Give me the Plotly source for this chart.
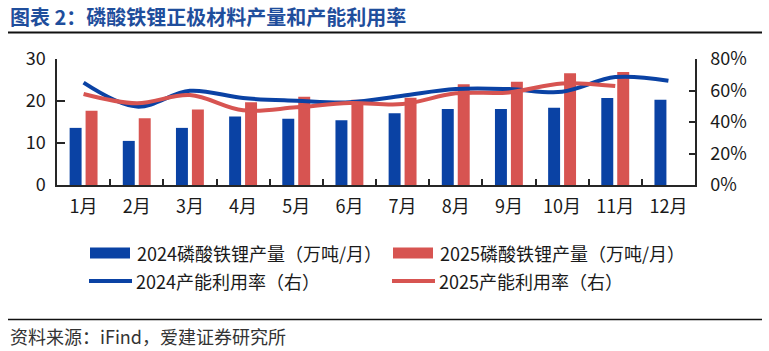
import plotly.graph_objects as go

# ---------------- data ----------------
months = ["1月", "2月", "3月", "4月", "5月", "6月", "7月", "8月", "9月", "10月", "11月", "12月"]
prod_2024 = [13.6, 10.5, 13.6, 16.3, 15.8, 15.4, 17.1, 18.1, 18.1, 18.4, 20.7, 20.3]
prod_2025 = [17.7, 15.9, 18.0, 19.7, 21.0, 20.3, 20.8, 24.0, 24.6, 26.6, 26.9, None]
util_2024 = [0.65, 0.498, 0.598, 0.552, 0.535, 0.525, 0.567, 0.609, 0.609, 0.592, 0.685, 0.662]
util_2025 = [0.578, 0.519, 0.571, 0.474, 0.493, 0.521, 0.514, 0.582, 0.588, 0.645, 0.628, None]

series_names = [
    "2024磷酸铁锂产量（万吨/月）",
    "2025磷酸铁锂产量（万吨/月）",
    "2024产能利用率（右）",
    "2025产能利用率（右）",
]
title_text = "图表 2：磷酸铁锂正极材料产量和产能利用率"
source_text = "资料来源：iFind，爱建证券研究所"
left_ticks = [0, 10, 20, 30]
right_ticks = [0, 0.2, 0.4, 0.6, 0.8]

# ---------------- style ----------------
BLUE = "#0a42a4"
RED = "#d75451"
TITLE_BLUE = "#1f4e9c"
AXIS = "#262626"
TXT = "#1a1a1a"
FONT = "Noto Sans CJK SC"

W, H = 769, 351
L, R, T, B = 57, 74, 59, 166
PW, PH = W - L - R, H - T - B


def px(x):
    return (x - L) / PW


def py(y):
    return (H - B - y) / PH


fig = go.Figure()
fig.add_trace(go.Bar(x=months, y=prod_2024, name=series_names[0],
                     marker=dict(color=BLUE, line=dict(width=0)), yaxis="y"))
fig.add_trace(go.Bar(x=months, y=prod_2025, name=series_names[1],
                     marker=dict(color=RED, line=dict(width=0)), yaxis="y"))
fig.add_trace(go.Scatter(x=months, y=util_2024, name=series_names[2], mode="lines",
                         line=dict(color=BLUE, width=4, shape="spline", smoothing=1),
                         yaxis="y2"))
fig.add_trace(go.Scatter(x=months, y=util_2025, name=series_names[3], mode="lines",
                         line=dict(color=RED, width=4, shape="spline", smoothing=1),
                         yaxis="y2"))

shapes = []
annotations = []

# title + underline
annotations.append(dict(x=px(8), y=py(16), xref="paper", yref="paper", xanchor="left",
                        yanchor="middle", showarrow=False, text="<b>" + title_text + "</b>",
                        font=dict(family=FONT, size=20, color=TITLE_BLUE)))
shapes.append(dict(type="line", xref="paper", yref="paper", x0=px(8), x1=px(762),
                   y0=py(32.5), y1=py(32.5), line=dict(color="#111111", width=2)))

# manual legend
legend_rows = [
    (BLUE, series_names[0], "bar", 90, 253),
    (RED, series_names[1], "bar", 393, 253),
    (BLUE, series_names[2], "line", 89, 281),
    (RED, series_names[3], "line", 392, 281),
]
for color, label, kind, x0, yc in legend_rows:
    if kind == "bar":
        shapes.append(dict(type="rect", xref="paper", yref="paper", x0=px(x0), x1=px(x0 + 40),
                           y0=py(yc - 5.5), y1=py(yc + 5.5), line=dict(width=0),
                           fillcolor=color))
    else:
        shapes.append(dict(type="line", xref="paper", yref="paper", x0=px(x0), x1=px(x0 + 43),
                           y0=py(yc), y1=py(yc), line=dict(color=color, width=4)))
    annotations.append(dict(x=px(x0 + 45), y=py(yc), xref="paper", yref="paper",
                            xanchor="left", yanchor="middle", showarrow=False, text=label,
                            font=dict(family=FONT, size=18, color=TXT)))

# source line + text
shapes.append(dict(type="line", xref="paper", yref="paper", x0=px(8), x1=px(762),
                   y0=py(319.5), y1=py(319.5), line=dict(color="#111111", width=1.5)))
annotations.append(dict(x=px(8), y=py(336), xref="paper", yref="paper", xanchor="left",
                        yanchor="middle", showarrow=False, text=source_text,
                        font=dict(family=FONT, size=18, color="#333333")))

fig.update_layout(
    width=W, height=H,
    margin=dict(l=L, r=R, t=T, b=B, pad=0),
    paper_bgcolor="white", plot_bgcolor="white",
    barmode="group", bargap=0.4, bargroupgap=0.25,
    showlegend=False,
    font=dict(family=FONT, size=18, color=TXT),
    xaxis=dict(type="category", showline=True, linecolor=AXIS, linewidth=1.5,
               ticks="inside", tickson="boundaries", ticklen=6, tickcolor=AXIS,
               tickwidth=1.5, showgrid=False, zeroline=False, ticklabelstandoff=5,
               tickfont=dict(family=FONT, size=18, color=TXT)),
    yaxis=dict(range=[0, 30], tickvals=left_ticks, showline=True, linecolor=AXIS,
               linewidth=1.5, ticks="inside", ticklen=8, tickcolor=AXIS, tickwidth=1.5,
               showgrid=False, zeroline=False, ticklabelstandoff=6,
               tickfont=dict(family=FONT, size=18, color=TXT)),
    yaxis2=dict(range=[0, 0.8], tickvals=right_ticks, tickformat=".0%", overlaying="y",
                side="right", showline=True, linecolor=AXIS, linewidth=1.5,
                ticks="inside", ticklen=6, tickcolor=AXIS, tickwidth=1.5, showgrid=False,
                zeroline=False, ticklabelstandoff=10,
                tickfont=dict(family=FONT, size=18, color=TXT)),
    shapes=shapes,
    annotations=annotations,
)

fig.write_html("out.html")
